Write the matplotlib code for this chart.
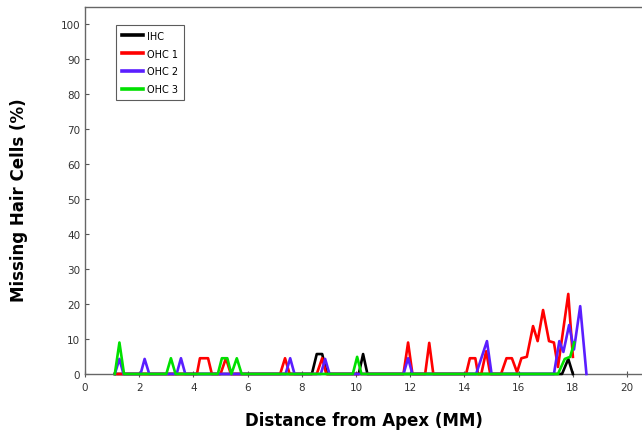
import matplotlib
matplotlib.use("Agg")
import matplotlib.pyplot as plt

# Дані (відстань від верхівки, мм; відсоток втрачених клітин)
ihc_x = [1.1, 8.37, 8.55, 8.75, 8.93, 10.1, 10.26, 10.42, 17.6, 17.83, 18.0]
ihc_y = [0, 0, 5.7, 5.7, 0, 0, 5.7, 0, 0, 4.3, 0]

ohc1_x = [1.1, 4.13, 4.24, 4.54, 4.68, 5.0, 5.2, 5.38, 7.2, 7.38, 7.55,
          8.55, 8.75, 8.9, 11.75, 11.92, 12.08, 12.55, 12.7, 12.85,
          14.06, 14.2, 14.4, 14.5, 14.62, 14.8, 14.95, 15.35, 15.55, 15.75,
          15.94, 16.1, 16.3, 16.53, 16.7, 16.9, 17.12, 17.3, 17.45, 17.83, 18.0]
ohc1_y = [0, 0, 4.5, 4.5, 0, 0, 4.5, 0, 0, 4.5, 0,
          0, 4.5, 0, 0, 9, 0, 0, 8.9, 0,
          0, 4.5, 4.5, 0, 0, 6.5, 0, 0, 4.5, 4.5,
          0.5, 4.5, 4.9, 13.7, 9.4, 18.3, 9.4, 9.0, 2.0, 22.9, 4.9]

ohc2_x = [1.1, 1.27, 1.42, 2.05, 2.2, 2.37, 3.38, 3.54, 3.7, 7.4, 7.57, 7.73,
          8.7, 8.86, 9.02, 11.75, 11.92, 12.08, 14.43, 14.83, 15.0,
          17.3, 17.5, 17.65, 17.86, 18.04, 18.27, 18.5]
ohc2_y = [0, 4.3, 0, 0, 4.3, 0, 0, 4.5, 0, 0, 4.5, 0,
          0, 4.3, 0, 0, 4.5, 0, 0, 9.4, 0,
          0, 9.4, 6.3, 14, 7, 19.4, 0]

ohc3_x = [1.1, 1.27, 1.44, 3.0, 3.17, 3.34, 4.9, 5.05, 5.25, 5.4, 5.6, 5.78,
          9.88, 10.04, 10.2, 17.45, 17.7, 17.9, 18.05]
ohc3_y = [0, 9, 0, 0, 4.5, 0, 0, 4.5, 4.5, 0, 4.5, 0,
          0, 4.9, 0, 0, 4.3, 4.9, 9]

x_ticks = list(range(0, 21, 2))
y_ticks = list(range(0, 101, 10))

fig = plt.figure(figsize=(6.42, 4.35), dpi=100)
ax = fig.add_axes([0.1324, 0.138, 0.8676, 0.8436])

lw = 1.9
ax.plot(ihc_x, ihc_y, color="black", lw=lw, label="IHC", clip_on=False, zorder=3)
ax.plot(ohc1_x, ohc1_y, color="#ff0000", lw=lw, label="OHC 1", clip_on=False, zorder=3)
ax.plot(ohc2_x, ohc2_y, color="#5a1eff", lw=lw, label="OHC 2", clip_on=False, zorder=3)
ax.plot(ohc3_x, ohc3_y, color="#00e000", lw=lw, label="OHC 3", clip_on=False, zorder=3)

ax.set_xlim(0, 20.55)
ax.set_ylim(0, 105)
ax.set_xticks(x_ticks)
ax.set_yticks(y_ticks)
ax.tick_params(axis="both", labelsize=7.5, labelcolor="#333333", color="#555555",
               length=3, width=0.8)
ax.tick_params(axis="y", direction="in")
ax.tick_params(axis="x", direction="inout", length=4)
for side in ["left", "bottom", "top"]:
    ax.spines[side].set_color("#666666")
    ax.spines[side].set_linewidth(1.0)
ax.spines["right"].set_visible(False)

ax.set_xlabel("Distance from Apex (MM)", fontsize=12, fontweight="bold", labelpad=14)
ax.set_ylabel("Missing Hair Cells (%)", fontsize=12, fontweight="bold")
ax.yaxis.set_label_coords(-0.102, 0.475)

leg = ax.legend(loc="upper left", bbox_to_anchor=(0.056, 0.951), fontsize=7,
                frameon=True, fancybox=False, handlelength=2.2, handletextpad=0.4,
                labelspacing=0.8, borderpad=0.6, borderaxespad=0)
leg.get_frame().set_edgecolor("#333333")
leg.get_frame().set_linewidth(0.8)
for line in leg.get_lines():
    line.set_linewidth(2.6)

fig.savefig("out.png", dpi=100)
